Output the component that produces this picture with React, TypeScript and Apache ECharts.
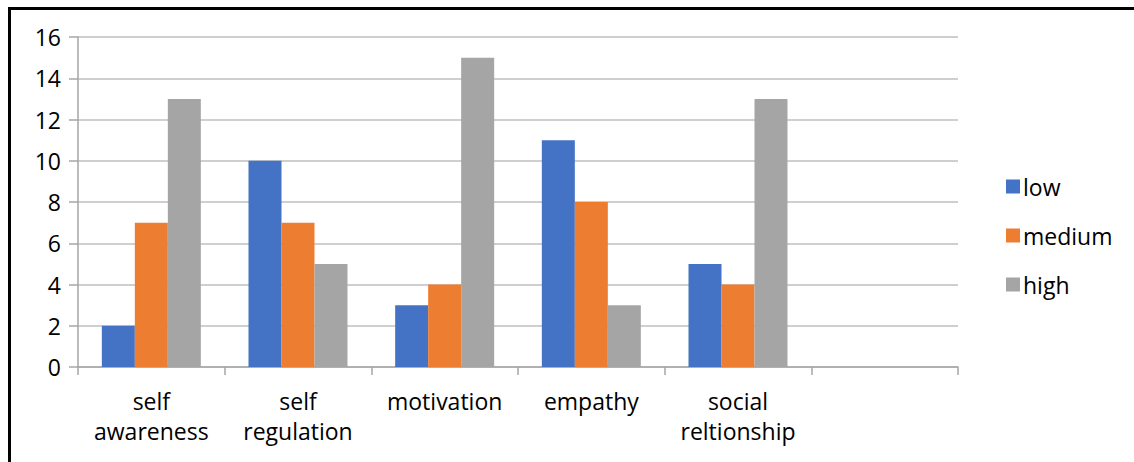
import React, { useEffect, useRef } from "react";
import * as echarts from "echarts";

const categories = ["self\nawareness", "self\nregulation", "motivation", "empathy", "social\nreltionship", ""];
const lowValues = [2, 10, 3, 11, 5, null];
const mediumValues = [7, 7, 4, 8, 4, null];
const highValues = [13, 5, 15, 3, 13, null];
const seriesNames = ["low", "medium", "high"];
const colors = ["#4472C4", "#ED7D31", "#A5A5A5"];

export default function App() {
  const ref = useRef<HTMLDivElement>(null);
  useEffect(() => {
    const chart = echarts.init(ref.current!, null, { renderer: "svg" });
    const font = "'Open Sans', 'Noto Sans', sans-serif";
    const values = [lowValues, mediumValues, highValues];
    chart.setOption({
      animation: false,
      backgroundColor: "#ffffff",
      textStyle: { fontFamily: font },
      grid: { left: 78, right: 176, top: 37, bottom: 95, containLabel: false },
      xAxis: {
        type: "category",
        data: categories,
        boundaryGap: true,
        axisLine: { show: true, lineStyle: { color: "#a6a6a6", width: 1.5 } },
        axisTick: { show: true, alignWithLabel: false, length: 8, lineStyle: { color: "#a6a6a6", width: 1.5 } },
        axisLabel: { fontSize: 23, color: "#000", fontFamily: font, lineHeight: 30, margin: 19, interval: 0 },
        splitLine: { show: false },
      },
      yAxis: {
        type: "value",
        min: 0,
        max: 16,
        interval: 2,
        axisLine: { show: true, lineStyle: { color: "#a6a6a6", width: 1.5 } },
        axisTick: { show: true, length: 9, lineStyle: { color: "#a6a6a6", width: 1.5 } },
        axisLabel: { fontSize: 23, color: "#000", fontFamily: font, margin: 17 },
        splitLine: { show: true, lineStyle: { color: "#bfbfbf", width: 1.5 } },
      },
      legend: {
        orient: "vertical",
        left: 1001,
        top: 170,
        itemWidth: 14,
        itemHeight: 14,
        itemGap: 26,
        icon: "rect",
        data: seriesNames,
        textStyle: { fontSize: 23, color: "#000", fontFamily: font, lineHeight: 23, padding: [0, 0, 0, -2] },
      },
      series: seriesNames.map((name, i) => ({
        name,
        type: "bar",
        data: values[i],
        barGap: "0%",
        barCategoryGap: "32.5%",
        itemStyle: { color: colors[i] },
      })),
      graphic: [
        { type: "rect", shape: { x: 8, y: 7, width: 1126, height: 3 }, style: { fill: "#000" } },
        { type: "rect", shape: { x: 8, y: 7, width: 3, height: 455 }, style: { fill: "#000" } },
      ],
    });
    return () => chart.dispose();
  }, []);
  return (
    <div
      ref={ref}
      style={{ position: "fixed", left: 0, top: 0, width: 1134, height: 462 }}
    />
  );
}
